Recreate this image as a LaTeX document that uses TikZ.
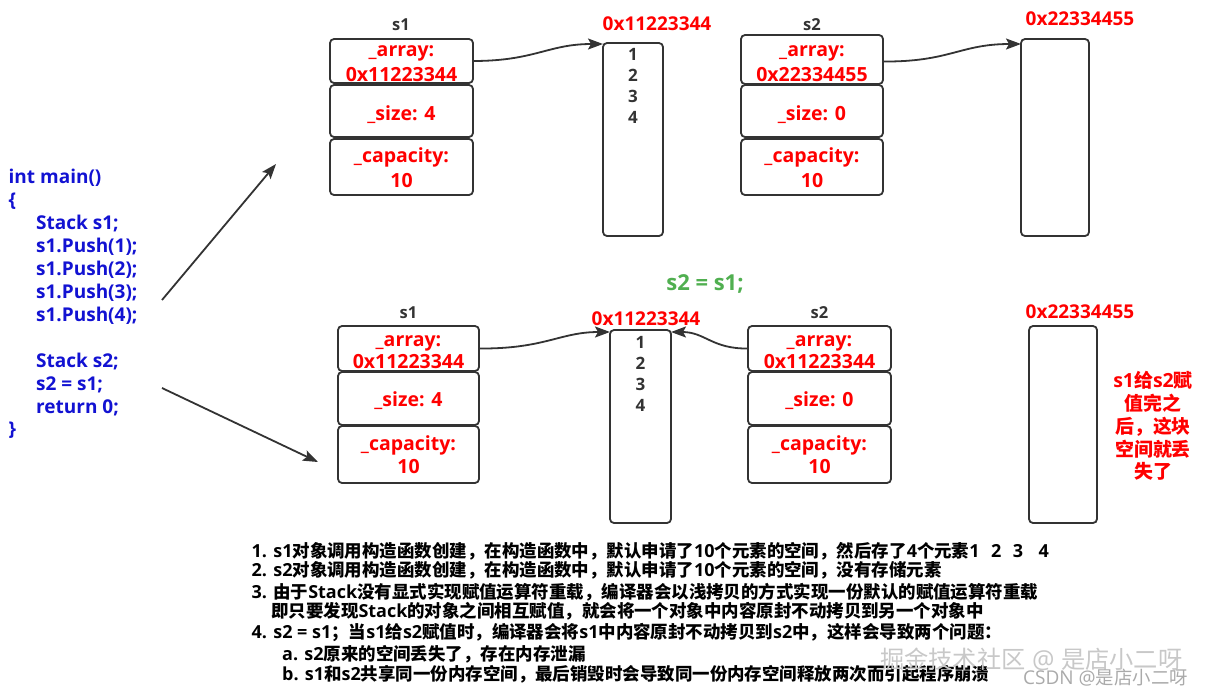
\documentclass[tikz,border=0pt]{standalone}
\usepackage{fontspec}
\setmainfont{Open Sans}
\newfontfamily\cjkf{Noto Sans CJK SC}[Scale=0.97]
\newcommand\ZH[1]{{\cjkf #1}}
\usetikzlibrary{arrows.meta}
\definecolor{lc}{RGB}{51,51,51}
\definecolor{rd}{RGB}{255,0,0}
\definecolor{bl}{RGB}{18,18,210}
\definecolor{gr}{RGB}{80,175,80}
\definecolor{wm}{RGB}{200,200,200}
\definecolor{wmb}{RGB}{170,170,170}
\tikzset{
  box/.style={draw=lc, line width=1.8pt, rounded corners=4pt, inner sep=0pt, outer sep=0pt},
  ftext/.style={text=rd, font=\fontsize{19.5}{23}\selectfont\bfseries, inner sep=0pt, anchor=base},
  lbl/.style={text=lc, font=\fontsize{16.5}{20}\selectfont\bfseries, inner sep=0pt, anchor=base},
  addr/.style={text=rd, font=\fontsize{19}{22}\selectfont\bfseries, inner sep=0pt, anchor=base},
  num/.style={text=lc, font=\fontsize{17}{20}\selectfont\bfseries, inner sep=0pt, anchor=base},
  code/.style={text=bl, font=\fontsize{19}{23}\selectfont\bfseries, inner sep=0pt, anchor=base west},
  note/.style={text=black, font=\fontsize{18}{21}\selectfont\bfseries, inner sep=0pt, anchor=base west},
  rnote/.style={text=rd, font=\fontsize{19.5}{23}\selectfont\bfseries, inner sep=0pt, anchor=base},
  arr/.style={draw=lc, line width=1.8pt, -{Stealth[length=15pt,width=11pt,inset=3pt]}},
}
\begin{document}
\begin{tikzpicture}[x=1pt,y=-1pt]
\useasboundingbox (0,0) rectangle (1209,697);

% ---------- code ----------
\foreach \y/\x/\t [count=\i] in {183/8.5/{int main()}, 206/8.5/{\{}, 229/36/{Stack s1;}, 252/36/{s1.Push(1);}, 275/36/{s1.Push(2);}, 298/36/{s1.Push(3);}, 321/36/{s1.Push(4);}, 367/36/{Stack s2;}, 390/36/{s2 = s1;}, 413/36/{return 0;}, 435/8.5/{\}}}
  \node[code] (code\i) at (\x,\y) {\t};

\coordinate (a1s) at (162,300);
\coordinate (a1e) at (276,164);
\coordinate (a2s) at (162,388);
\coordinate (a2e) at (318,462);
\draw[arr] (a1s) -- (a1e);
\draw[arr] (a2s) -- (a2e);

% ---------- top s1 ----------
\node[lbl] (ls1) at (401,30) {s1};
\node[box, minimum width=143pt, minimum height=44pt] (t1a) at (401.5,61) {};
\node[box, minimum width=143pt, minimum height=52pt] (t1s) at (401.5,111) {};
\node[box, minimum width=143pt, minimum height=56pt] (t1c) at (401.5,167) {};
\node[ftext] (t1a1) at (401.5,56.5) {\_array:};
\node[ftext] (t1a2) at (401.5,81) {0x11223344};
\node[ftext] (t1s1) at (401.5,120) {\_size: 4};
\node[ftext] (t1c1) at (401.5,162) {\_capacity:};
\node[ftext] (t1c2) at (401.5,187) {10};
\node[addr] (la1) at (657,30) {0x11223344};
\node[box, minimum width=60pt, minimum height=193pt] (t1b) at (633,139.5) {};
\foreach \d in {1,...,4} \node[num] (tn\d) at (633,39+21*\d) {\d};
\draw[arr] (t1a.east) .. controls (535,61) and (548,44) .. ([yshift=-1pt]t1b.north west);

% ---------- top s2 ----------
\node[lbl] (ls2) at (812,30) {s2};
\node[box, minimum width=142pt, minimum height=49pt] (t2a) at (812,59.5) {};
\node[box, minimum width=142pt, minimum height=52pt] (t2s) at (812,111) {};
\node[box, minimum width=142pt, minimum height=56pt] (t2c) at (812,167) {};
\node[ftext] (t2a1) at (812,56) {\_array:};
\node[ftext] (t2a2) at (812,81.5) {0x22334455};
\node[ftext] (t2s1) at (812,120) {\_size: 0};
\node[ftext] (t2c1) at (812,162) {\_capacity:};
\node[ftext] (t2c2) at (812,187) {10};
\node[addr] (la2) at (1080,25) {0x22334455};
\node[box, minimum width=68pt, minimum height=197pt] (t2b) at (1055,137.5) {};
\draw[arr] ([yshift=-2pt]t2a.east) .. controls (950,62) and (960,44) .. ([yshift=-5pt]t2b.north west);

% ---------- middle ----------
\node[text=gr, font=\fontsize{22}{24}\selectfont\bfseries, inner sep=0pt, anchor=base] (mid) at (705,290) {s2 = s1;};

% ---------- bottom s1 ----------
\node[lbl] (ls3) at (408.5,318) {s1};
\node[box, minimum width=141pt, minimum height=45pt] (b1a) at (408.5,348.5) {};
\node[box, minimum width=141pt, minimum height=53pt] (b1s) at (408.5,398.5) {};
\node[box, minimum width=141pt, minimum height=57pt] (b1c) at (408.5,454.5) {};
\node[ftext] (b1a1) at (408.5,346) {\_array:};
\node[ftext] (b1a2) at (408.5,368) {0x11223344};
\node[ftext] (b1s1) at (408.5,406) {\_size: 4};
\node[ftext] (b1c1) at (408.5,450) {\_capacity:};
\node[ftext] (b1c2) at (408.5,473) {10};
\node[addr] (la3) at (646,325) {0x11223344};
\node[box, minimum width=61pt, minimum height=193pt] (b1b) at (640.5,426.5) {};
\foreach \d in {1,...,4} \node[num] (bn\d) at (640.5,327+21*\d) {\d};

% ---------- bottom s2 ----------
\node[lbl] (ls4) at (819.5,318) {s2};
\node[box, minimum width=143pt, minimum height=45pt] (b2a) at (819.5,348.5) {};
\node[box, minimum width=143pt, minimum height=53pt] (b2s) at (819.5,398.5) {};
\node[box, minimum width=143pt, minimum height=57pt] (b2c) at (819.5,454.5) {};
\node[ftext] (b2a1) at (819.5,346) {\_array:};
\node[ftext] (b2a2) at (819.5,368) {0x11223344};
\node[ftext] (b2s1) at (819.5,406) {\_size: 0};
\node[ftext] (b2c1) at (819.5,450) {\_capacity:};
\node[ftext] (b2c2) at (819.5,473) {10};
\node[addr] (la4) at (1080,318) {0x22334455};
\node[box, minimum width=68pt, minimum height=197pt] (b2b) at (1063,424.5) {};

\draw[arr] (b1a.east) .. controls (545,349) and (560,332) .. ([yshift=-2pt]b1b.north west);
\draw[arr] (b2a.west) .. controls (712,349) and (705,332) .. ([yshift=-2pt]b1b.north east);

% ---------- red note ----------
\node[rnote] (r1) at (1153,387) {s1\ZH{给}s2\ZH{赋}};
\node[rnote] (r2) at (1153,410) {\ZH{值完之}};
\node[rnote] (r3) at (1153,433) {\ZH{后，这块}};
\node[rnote] (r4) at (1153,456) {\ZH{空间就丢}};
\node[rnote] (r5) at (1153,478) {\ZH{失了}};

% ---------- bottom notes ----------
\node[note] (n1) at (251.5,557) {1. s1\ZH{对象调用构造函数创建，在构造函数中，默认申请了}10\ZH{个元素的空间，然后存了}4\ZH{个元素}1\hspace{11.5pt}2\hspace{11.5pt}3\hspace{15.5pt}4};
\node[note] (n2) at (251.5,576) {2. s2\ZH{对象调用构造函数创建，在构造函数中，默认申请了}10\ZH{个元素的空间，没有存储元素}};
\node[note] (n3) at (251.5,598) {3. \ZH{由于}Stack\ZH{没有显式实现赋值运算符重载，编译器会以浅拷贝的方式实现一份默认的赋值运算符重载}};
\node[note] (n4) at (271,617) {\ZH{即只要发现}Stack\ZH{的对象之间相互赋值，就会将一个对象中内容原封不动拷贝到另一个对象中}};
\node[note] (n5) at (251.5,638) {4. s2 = s1\ZH{；当}s1\ZH{给}s2\ZH{赋值时，编译器会将}s1\ZH{中内容原封不动拷贝到}s2\ZH{中，这样会导致两个问题：}};
\node[note] (n6) at (282,660) {a. s2\ZH{原来的空间丢失了，存在内存泄漏}};
\node[note] (n7) at (282,680) {b. s1\ZH{和}s2\ZH{共享同一份内存空间，最后销毁时会导致同一份内存空间释放两次而引起程序崩溃}};

% ---------- watermark ----------
\node[text=wm, font=\fontsize{25}{28}\selectfont, inner sep=0pt, anchor=base west] (wm1) at (880,668) {\ZH{掘金技术社区} @ \ZH{是店小二呀}};
\node[text=wmb, font=\fontsize{19}{21}\selectfont, inner sep=0pt, anchor=base west] (wm2) at (1023,684) {CSDN @\ZH{是店小二呀}};
\end{tikzpicture}
\end{document}
